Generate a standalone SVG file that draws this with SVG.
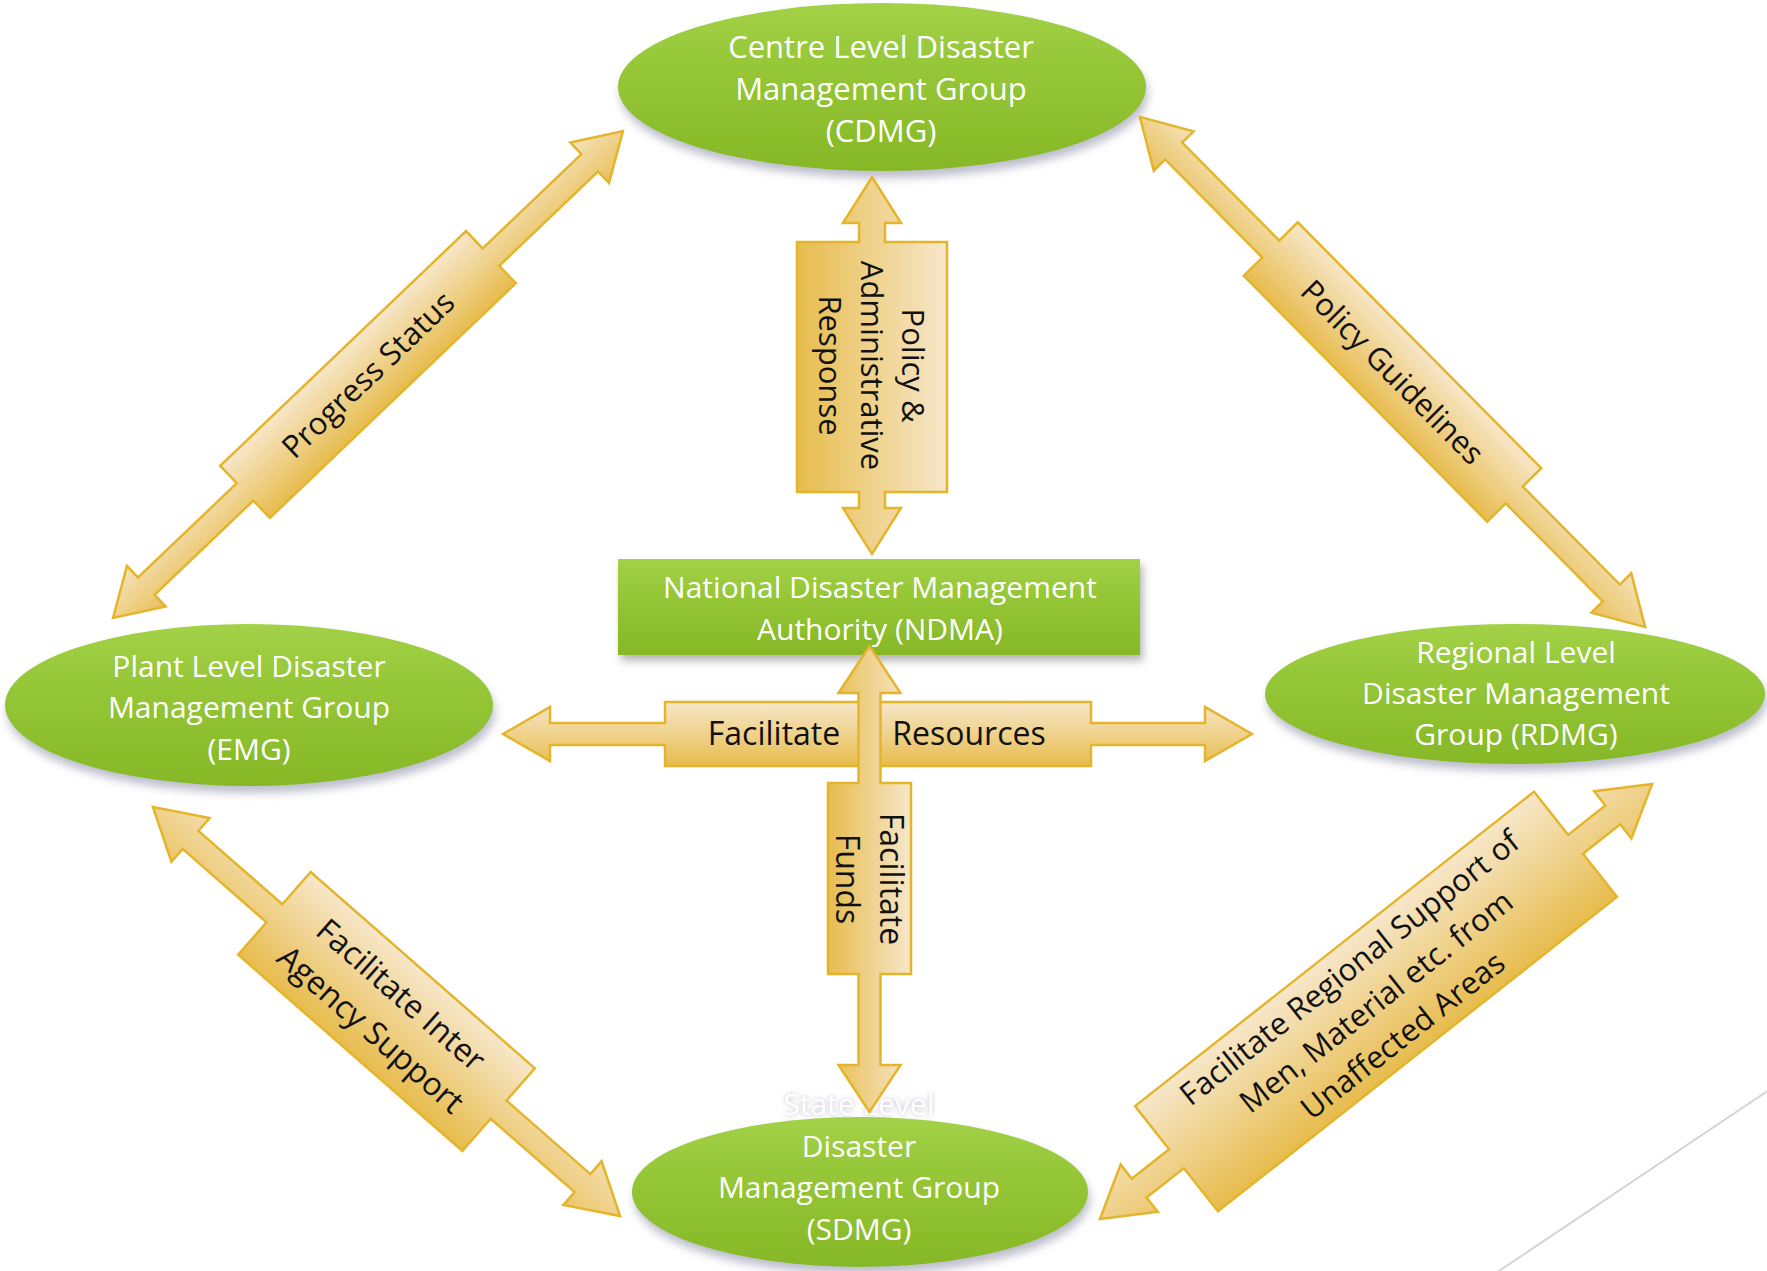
<svg xmlns="http://www.w3.org/2000/svg" width="1767" height="1271" viewBox="0 0 1767 1271">
  <style>
    .node-fill { fill: url(#greenFill); }
    .node-text { fill: #ffffff; font-family: "Open Sans", "Noto Sans", sans-serif; font-size: 30px; text-anchor: middle; }
    .arrow { fill: url(#goldFill); stroke: #e4b52b; stroke-width: 2.5; stroke-linejoin: miter; }
    .label { fill: #111111; font-family: "Open Sans", "Noto Sans", sans-serif; font-size: 31px; text-anchor: middle; }
    .label-lg { font-size: 32px; }
    .edge-line { stroke: #d4d4d4; stroke-width: 2; fill: none; }
  </style>
  <defs>
    <linearGradient id="greenFill" x1="0" y1="0" x2="0" y2="1">
      <stop offset="0" stop-color="#a3d147"/>
      <stop offset="0.45" stop-color="#93c535"/>
      <stop offset="1" stop-color="#86b827"/>
    </linearGradient>
    <linearGradient id="goldFill" x1="0" y1="0" x2="0" y2="1">
      <stop offset="0" stop-color="#f7e7ca"/>
      <stop offset="1" stop-color="#e7bc4d"/>
    </linearGradient>
    <filter id="nodeShadow" x="-10%" y="-15%" width="120%" height="140%">
      <feDropShadow dx="2" dy="7" stdDeviation="4" flood-color="#8a8aa6" flood-opacity="0.55"/>
    </filter>
    <filter id="boxShadow" x="-10%" y="-20%" width="120%" height="150%">
      <feDropShadow dx="3" dy="6" stdDeviation="4" flood-color="#7a7a7a" flood-opacity="0.55"/>
    </filter>
    <filter id="textGlow" x="-10%" y="-40%" width="120%" height="180%">
      <feGaussianBlur in="SourceAlpha" stdDeviation="2.5" result="blur"/>
      <feFlood flood-color="#b4b4c8" flood-opacity="0.9"/>
      <feComposite in2="blur" operator="in" result="glow"/>
      <feMerge>
        <feMergeNode in="glow"/>
        <feMergeNode in="SourceGraphic"/>
      </feMerge>
    </filter>
  </defs>

  <rect width="1767" height="1271" fill="#ffffff"/>
  <line class="edge-line" x1="1490" y1="1277" x2="1775" y2="1086"/>

  <!-- Nodes -->
  <g id="cdmg">
    <ellipse class="node-fill" cx="882" cy="87" rx="264" ry="84" filter="url(#nodeShadow)"/>
    <text class="node-text" x="881" y="58" style="font-size:31px">Centre Level Disaster</text>
    <text class="node-text" x="881" y="100" style="font-size:31px">Management Group</text>
    <text class="node-text" x="881" y="142" style="font-size:31px">(CDMG)</text>
  </g>

  <g id="ndma">
    <rect class="node-fill" x="618" y="559" width="522" height="96" filter="url(#boxShadow)"/>
    <text class="node-text" x="880" y="598">National Disaster Management</text>
    <text class="node-text" x="880" y="640">Authority (NDMA)</text>
  </g>

  <g id="emg">
    <ellipse class="node-fill" cx="249" cy="705" rx="244" ry="81" filter="url(#nodeShadow)"/>
    <text class="node-text" x="249" y="677">Plant Level Disaster</text>
    <text class="node-text" x="249" y="718">Management Group</text>
    <text class="node-text" x="249" y="760">(EMG)</text>
  </g>

  <g id="rdmg">
    <ellipse class="node-fill" cx="1515" cy="694" rx="250" ry="70" filter="url(#nodeShadow)"/>
    <text class="node-text" x="1516" y="663">Regional Level</text>
    <text class="node-text" x="1516" y="704">Disaster Management</text>
    <text class="node-text" x="1516" y="745">Group (RDMG)</text>
  </g>

  <g id="sdmg">
    <ellipse class="node-fill" cx="860" cy="1192" rx="228" ry="75" filter="url(#nodeShadow)"/>
    <text class="node-text" x="859" y="1115" filter="url(#textGlow)">State Level</text>
    <text class="node-text" x="859" y="1157">Disaster</text>
    <text class="node-text" x="859" y="1198">Management Group</text>
    <text class="node-text" x="859" y="1240">(SDMG)</text>
  </g>

  <!-- Connectors: double-headed block arrows with a label box in the middle -->
  <g id="connectors">
    <!-- CDMG <-> NDMA -->
    <g id="arrow-policy-admin" transform="translate(872,365.5) rotate(90)">
      <path class="arrow" d="M-188.5,0 L-142.5,-29 L-142.5,-13 L-123.5,-13 L-123.5,-75 L126.5,-75 L126.5,-13 L142.5,-13 L142.5,-29 L188.5,0 L142.5,29 L142.5,13 L126.5,13 L126.5,75 L-123.5,75 L-123.5,13 L-142.5,13 L-142.5,29 Z"/>
      <text class="label" x="0" y="-30">Policy &amp;</text>
      <text class="label" x="0" y="11">Administrative</text>
      <text class="label" x="0" y="53">Response</text>
    </g>

    <!-- EMG <-> CDMG -->
    <g id="arrow-progress" transform="translate(368,374.5) rotate(-43.68)">
      <path class="arrow" d="M-352.5,0 L-306.5,-28 L-306.5,-12 L-170,-12 L-170,-36 L170,-36 L170,-12 L306.5,-12 L306.5,-28 L352.5,0 L306.5,28 L306.5,12 L170,12 L170,36 L-170,36 L-170,12 L-306.5,12 L-306.5,28 Z"/>
      <text class="label" x="0" y="11">Progress Status</text>
    </g>

    <!-- CDMG <-> RDMG -->
    <g id="arrow-policy-guidelines" transform="translate(1392.5,372) rotate(45.28)">
      <path class="arrow" d="M-359,0 L-311,-28 L-311,-12 L-173,-12 L-173,-38 L173,-38 L173,-12 L311,-12 L311,-28 L359,0 L311,28 L311,12 L173,12 L173,38 L-173,38 L-173,12 L-311,12 L-311,28 Z"/>
      <text class="label" x="0" y="11">Policy Guidelines</text>
    </g>

    <!-- EMG <-> SDMG -->
    <g id="arrow-inter-agency" transform="translate(386.5,1011.5) rotate(41.21)">
      <path class="arrow" d="M-310.5,0 L-260.5,-29 L-260.5,-12 L-149,-12 L-149,-55 L149,-55 L149,-12 L260.5,-12 L260.5,-29 L310.5,0 L260.5,29 L260.5,12 L149,12 L149,55 L-149,55 L-149,12 L-260.5,12 L-260.5,29 Z"/>
      <text class="label label-lg" x="0" y="-11">Facilitate Inter</text>
      <text class="label label-lg" x="0" y="35">Agency Support</text>
    </g>

    <!-- SDMG <-> RDMG -->
    <g id="arrow-regional-support" transform="translate(1376,1001.5) rotate(-38.24)">
      <path class="arrow" d="M-351.5,0 L-301.5,-30 L-301.5,-12 L-254,-12 L-254,-67 L254,-67 L254,-12 L301.5,-12 L301.5,-30 L351.5,0 L301.5,30 L301.5,12 L254,12 L254,67 L-254,67 L-254,12 L-301.5,12 L-301.5,30 Z"/>
      <text class="label" x="0" y="-32">Facilitate Regional Support of</text>
      <text class="label" x="0" y="11">Men, Material etc. from</text>
      <text class="label" x="0" y="54">Unaffected Areas</text>
    </g>

    <!-- NDMA -> EMG / RDMG -->
    <g id="arrow-resources" transform="translate(877.5,734)">
      <path class="arrow" d="M-374.5,0 L-327.5,-27 L-327.5,-11 L-212.5,-11 L-212.5,-32 L213.5,-32 L213.5,-11 L327.5,-11 L327.5,-27 L374.5,0 L327.5,27 L327.5,11 L213.5,11 L213.5,32 L-212.5,32 L-212.5,11 L-327.5,11 L-327.5,27 Z"/>
      <text class="label label-lg" x="-103.5" y="11">Facilitate</text>
      <text class="label label-lg" x="91.5" y="11">Resources</text>
    </g>

    <!-- NDMA <-> SDMG -->
    <g id="arrow-funds" transform="translate(869.5,879) rotate(90)">
      <path class="arrow" d="M-233,0 L-186,-31 L-186,-11 L-96,-11 L-96,-41.5 L95,-41.5 L95,-11 L186,-11 L186,-31 L233,0 L186,31 L186,11 L95,11 L95,41.5 L-96,41.5 L-96,11 L-186,11 L-186,31 Z"/>
      <text class="label label-lg" x="0" y="-10.5">Facilitate</text>
      <text class="label label-lg" x="0" y="33.5">Funds</text>
    </g>
  </g>
</svg>
